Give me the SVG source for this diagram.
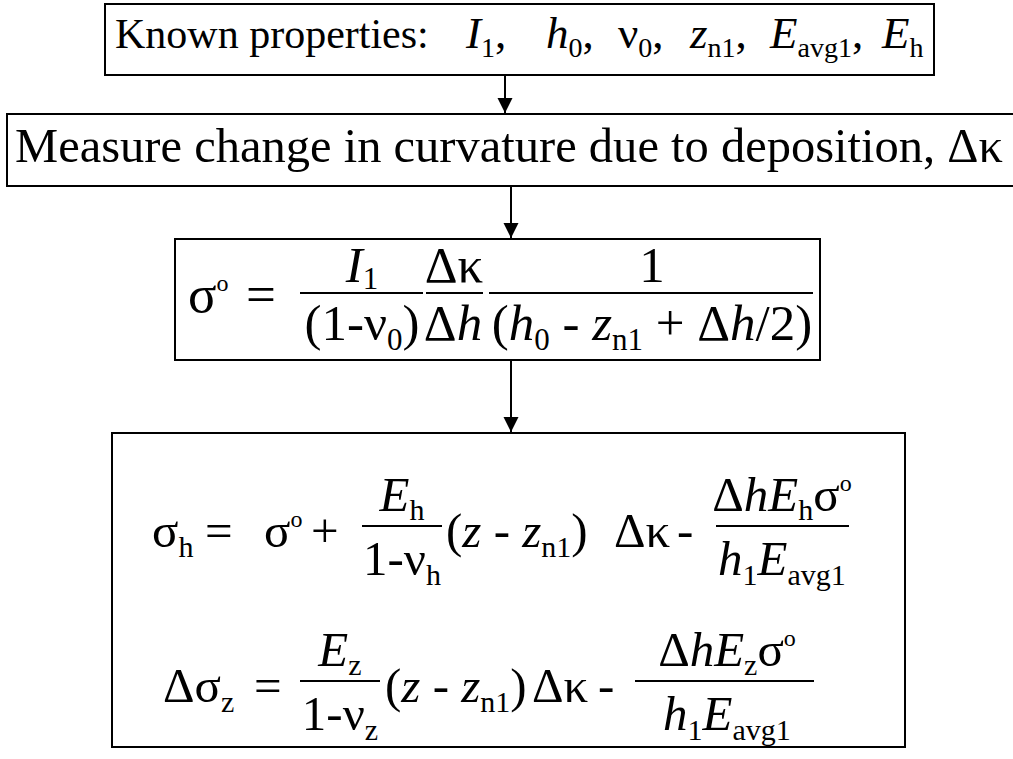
<svg xmlns="http://www.w3.org/2000/svg" width="1013" height="759" viewBox="0 0 1013 759" font-family="'Liberation Serif', 'Times New Roman', serif">
<style>
.t{fill:#000}
.i{font-style:italic}
.box{fill:none;stroke:#000;stroke-width:2}
.fr{stroke:#000;stroke-width:2}
.f42{font-size:42px}
.f45{font-size:45px}
.f49{font-size:49px}
.f51{font-size:51px}
.f53{font-size:53px}
.s28{font-size:28px}
.s30{font-size:30px}
.s31{font-size:31px}
.sp{font-size:24px}
.conn line{stroke:#000;stroke-width:2;marker-end:url(#ah)}
</style>
<defs>
<marker id="ah" markerUnits="userSpaceOnUse" markerWidth="16" markerHeight="16" refX="15" refY="7.5" orient="auto">
<path d="M0,0 L15,7.5 L0,15 z" fill="#000"/>
</marker>
</defs>
<rect width="1013" height="759" fill="#fff"/>
<g id="n1">
<rect class="box" x="105" y="4" width="829" height="71"/>
<text class="t f42" x="115" y="48">Known properties:</text>
<text class="t f45" y="48"><tspan x="466" class="i">I</tspan><tspan class="s28" dy="9">1</tspan><tspan dy="-9">,</tspan><tspan x="546" class="i">h</tspan><tspan class="s28" dy="9">0</tspan><tspan dy="-9">,</tspan><tspan x="618">ν</tspan><tspan class="s28" dy="9">0</tspan><tspan dy="-9">,</tspan><tspan x="690" class="i">z</tspan><tspan class="s28" dy="9">n1</tspan><tspan dy="-9">,</tspan><tspan x="770" class="i">E</tspan><tspan class="s28" dy="9">avg1</tspan><tspan dy="-9">,</tspan><tspan x="882" class="i">E</tspan><tspan class="s28" dy="9">h</tspan></text>
</g>
<g id="n2">
<rect class="box" x="7" y="114" width="1010" height="72"/>
<text class="t" x="15" y="162" font-size="48.5" textLength="988" lengthAdjust="spacing">Measure change in curvature due to deposition, Δκ</text>
</g>
<g id="n3">
<rect class="box" x="175" y="239" width="645" height="121"/>
<text class="t f53" x="188" y="312">σ<tspan class="sp" dy="-21">o</tspan></text>
<text class="t f53" x="246" y="312">=</text>
<text class="t f51" x="362" y="282" text-anchor="middle"><tspan class="i">I</tspan><tspan class="s31" dy="7">1</tspan></text>
<line class="fr" x1="300" y1="293" x2="423" y2="293"/>
<text class="t f51" x="362" y="340" text-anchor="middle">(1-ν<tspan class="s31" dy="10">0</tspan><tspan dy="-10">)</tspan></text>
<text class="t f51" x="454" y="282" text-anchor="middle">Δκ</text>
<line class="fr" x1="426" y1="293" x2="483" y2="293"/>
<text class="t f51" x="453" y="340" text-anchor="middle">Δ<tspan class="i">h</tspan></text>
<text class="t f51" x="652" y="282" text-anchor="middle">1</text>
<line class="fr" x1="489" y1="293" x2="813" y2="293"/>
<text class="t f51" x="652" y="340" text-anchor="middle">(<tspan class="i">h</tspan><tspan class="s31" dy="10">0</tspan><tspan dy="-10"> - </tspan><tspan class="i">z</tspan><tspan class="s31" dy="10">n1</tspan><tspan dy="-10"> + Δ</tspan><tspan class="i">h</tspan>/2)</text>
</g>
<g id="n4">
<rect class="box" x="112" y="433" width="793" height="314"/>
<text class="t f49" x="152" y="547">σ<tspan class="s30" dy="10">h</tspan></text>
<text class="t f49" x="205" y="547">=</text>
<text class="t f49" x="264" y="547">σ<tspan class="sp" dy="-20">o</tspan></text>
<text class="t f49" x="311" y="547">+</text>
<text class="t f49" x="402" y="511" text-anchor="middle"><tspan class="i">E</tspan><tspan class="s30" dy="9">h</tspan></text>
<line class="fr" x1="362" y1="526" x2="442" y2="526"/>
<text class="t f49" x="402" y="575" text-anchor="middle">1-ν<tspan class="s30" dy="10">h</tspan></text>
<text class="t f49" x="446" y="547">(<tspan class="i">z</tspan> - <tspan class="i">z</tspan><tspan class="s30" dy="10">n1</tspan><tspan dy="-10">)</tspan></text>
<text class="t f49" x="614" y="547">Δκ</text>
<text class="t f49" x="677" y="547">-</text>
<text class="t f49" x="782" y="511" text-anchor="middle">Δ<tspan class="i">hE</tspan><tspan class="s30" dy="9">h</tspan><tspan dy="-9">σ</tspan><tspan class="sp" dy="-20">o</tspan></text>
<line class="fr" x1="716" y1="526" x2="849" y2="526"/>
<text class="t f49" x="782" y="575" text-anchor="middle"><tspan class="i">h</tspan><tspan class="s30" dy="10">1</tspan><tspan class="i" dy="-10">E</tspan><tspan class="s30" dy="10">avg1</tspan></text>
<text class="t f49" x="163" y="702">Δσ<tspan class="s30" dy="10">z</tspan></text>
<text class="t f49" x="254" y="702">=</text>
<text class="t f49" x="340" y="666" text-anchor="middle"><tspan class="i">E</tspan><tspan class="s30" dy="9">z</tspan></text>
<line class="fr" x1="300" y1="681" x2="380" y2="681"/>
<text class="t f49" x="340" y="730" text-anchor="middle">1-ν<tspan class="s30" dy="10">z</tspan></text>
<text class="t f49" x="385" y="702">(<tspan class="i">z</tspan> - <tspan class="i">z</tspan><tspan class="s30" dy="10">n1</tspan><tspan dy="-10">)</tspan></text>
<text class="t f49" x="532" y="702">Δκ</text>
<text class="t f49" x="598" y="702">-</text>
<text class="t f49" x="727" y="666" text-anchor="middle">Δ<tspan class="i">hE</tspan><tspan class="s30" dy="9">z</tspan><tspan dy="-9">σ</tspan><tspan class="sp" dy="-20">o</tspan></text>
<line class="fr" x1="635" y1="681" x2="814" y2="681"/>
<text class="t f49" x="727" y="730" text-anchor="middle"><tspan class="i">h</tspan><tspan class="s30" dy="10">1</tspan><tspan class="i" dy="-10">E</tspan><tspan class="s30" dy="10">avg1</tspan></text>
</g>
<g id="connectors" class="conn">
<line x1="505" y1="75" x2="505" y2="113"/>
<line x1="511" y1="186" x2="511" y2="238"/>
<line x1="511" y1="360" x2="511" y2="432"/>
</g>
</svg>
